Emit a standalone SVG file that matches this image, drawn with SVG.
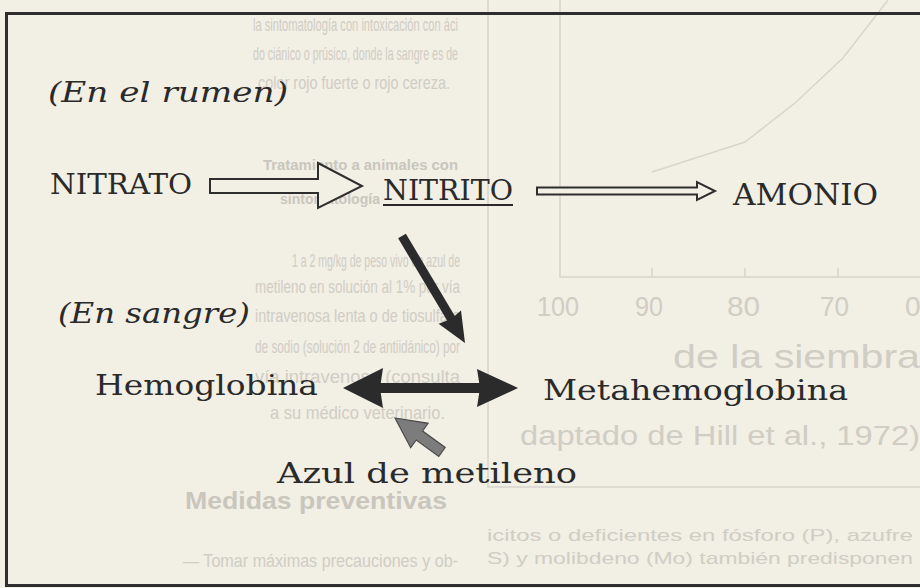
<svg xmlns="http://www.w3.org/2000/svg" width="920" height="588" viewBox="0 0 920 588">
<style>
.bg{fill:#f2efe5}
.ghost{font-family:"Liberation Sans","DejaVu Sans",sans-serif;fill:#d0cdc4}
.ghostb{font-family:"Liberation Sans","DejaVu Sans",sans-serif;font-weight:bold;fill:#c9c6bd}
.gline{fill:none;stroke:#d8d5cc;stroke-width:1.5}
.lbl{font-family:"DejaVu Serif","Liberation Serif",serif;fill:#2a2a2a}
.it{font-style:italic}
.frame{fill:none;stroke:#2e2e2e;stroke-width:3}
.hollow{fill:#f2efe5;stroke:#2e2e2e;stroke-width:2;stroke-linejoin:miter}
.solid{fill:#2b2b2b;stroke:none}
</style>
<rect class="bg" x="0" y="0" width="920" height="588"/>

<g id="show-through">
  <text class="ghost" x="253" y="31" font-size="19" textLength="205" lengthAdjust="spacingAndGlyphs">la sintomatología con intoxicación con áci</text>
  <text class="ghost" x="253" y="60" font-size="19" textLength="205" lengthAdjust="spacingAndGlyphs">do ciánico o prúsico, donde la sangre es de</text>
  <text class="ghost" x="258" y="89" font-size="19" textLength="192" lengthAdjust="spacingAndGlyphs">color rojo fuerte o rojo cereza.</text>
  <text class="ghostb" x="263" y="170" font-size="14" textLength="195" lengthAdjust="spacingAndGlyphs">Tratamiento a animales con</text>
  <text class="ghostb" x="280" y="204" font-size="14" textLength="100" lengthAdjust="spacingAndGlyphs">sintomatología</text>
  <text class="ghost" x="292" y="267" font-size="19" textLength="168" lengthAdjust="spacingAndGlyphs">1 a 2 mg/kg de peso vivo de azul de</text>
  <text class="ghost" x="255" y="293" font-size="19" textLength="205" lengthAdjust="spacingAndGlyphs">metileno en solución al 1% por vía</text>
  <text class="ghost" x="255" y="322" font-size="19" textLength="205" lengthAdjust="spacingAndGlyphs">intravenosa lenta o de tiosulfato</text>
  <text class="ghost" x="255" y="353" font-size="19" textLength="205" lengthAdjust="spacingAndGlyphs">de sodio (solución 2 de antiidánico) por</text>
  <text class="ghost" x="255" y="383" font-size="19" textLength="205" lengthAdjust="spacingAndGlyphs">vía intravenosa (consulta</text>
  <text class="ghost" x="270" y="419" font-size="19" textLength="175" lengthAdjust="spacingAndGlyphs">a su médico veterinario.</text>
  <text class="ghostb" x="185" y="509" font-size="24" textLength="262" lengthAdjust="spacingAndGlyphs">Medidas preventivas</text>
  <text class="ghost" x="183" y="567" font-size="19" textLength="275" lengthAdjust="spacingAndGlyphs">— Tomar máximas precauciones y ob-</text>

  <path class="gline" d="M488 0 V487 H920"/>
  <path class="gline" d="M560 0 V277 H920"/>
  <path class="gline" d="M652 277 V268 M745 277 V268 M838 277 V268"/>
  <polyline class="gline" points="652,172 745,142 795,103 843,58 888,0"/>
  <text class="ghost" x="537" y="316" font-size="28" textLength="42" lengthAdjust="spacingAndGlyphs">100</text>
  <text class="ghost" x="635" y="316" font-size="28" textLength="28" lengthAdjust="spacingAndGlyphs">90</text>
  <text class="ghost" x="727" y="316" font-size="28" textLength="33" lengthAdjust="spacingAndGlyphs">80</text>
  <text class="ghost" x="820" y="316" font-size="28" textLength="29" lengthAdjust="spacingAndGlyphs">70</text>
  <text class="ghost" x="905" y="316" font-size="28">0</text>
  <text class="ghost" x="673" y="368" font-size="33" textLength="247" lengthAdjust="spacingAndGlyphs">de la siembra</text>
  <text class="ghost" x="520" y="445" font-size="27" textLength="400" lengthAdjust="spacingAndGlyphs">daptado de Hill et al., 1972)</text>
  <text class="ghost" x="487" y="541" font-size="17" textLength="426" lengthAdjust="spacingAndGlyphs">icitos o deficientes en fósforo (P), azufre</text>
  <text class="ghost" x="487" y="564" font-size="17" textLength="426" lengthAdjust="spacingAndGlyphs">S) y molibdeno (Mo) también predisponen</text>
</g>

<g id="box">
  <path class="frame" d="M920 13.5 H6.5 V585.5 H920"/>
</g>

<g id="connectors">
  <polygon id="arrow-nitrato-nitrito" class="hollow" points="210,179 318,179 318,163 362,186 318,208 318,193 210,193"/>
  <polygon id="arrow-nitrito-amonio" class="hollow" points="537,187.5 697,187.5 697,182 715,191 697,200 697,194.5 537,194.5"/>
  <g id="arrow-nitrito-metahemoglobina">
    <line x1="402" y1="236" x2="452" y2="320" stroke="#2b2b2b" stroke-width="9"/>
    <polygon class="solid" points="465,343 438.6,323.8 451,319 461,310.6"/>
  </g>
  <g id="arrow-hemo-metahemo">
    <rect class="solid" x="380" y="383" width="100" height="10"/>
    <polygon class="solid" points="343,388 383,368 380,388 383,408"/>
    <polygon class="solid" points="518,388 477,369 480,388 477,407"/>
  </g>
  <polygon id="arrow-azul" points="395,418 428.1,423.3 422.6,431 445.2,447.5 438.8,456.5 416.2,440 410.7,447.7" fill="#7c7c7c" stroke="#4a4a4a" stroke-width="1.2"/>
</g>

<g id="label-rumen">
  <text class="lbl it" x="48" y="102" font-size="27" textLength="240" lengthAdjust="spacingAndGlyphs">(En el rumen)</text>
</g>
<g id="node-nitrato">
  <text class="lbl" x="50" y="194" font-size="27" textLength="142" lengthAdjust="spacingAndGlyphs">NITRATO</text>
</g>
<g id="node-nitrito">
  <text class="lbl" x="383" y="200" font-size="27" textLength="130" lengthAdjust="spacingAndGlyphs">NITRITO</text>
  <line x1="383" y1="205" x2="513" y2="205" stroke="#2a2a2a" stroke-width="2"/>
</g>
<g id="node-amonio">
  <text class="lbl" x="733" y="205" font-size="30" textLength="145" lengthAdjust="spacingAndGlyphs">AMONIO</text>
</g>
<g id="label-sangre">
  <text class="lbl it" x="58" y="323" font-size="27" textLength="192" lengthAdjust="spacingAndGlyphs">(En sangre)</text>
</g>
<g id="node-hemoglobina">
  <text class="lbl" x="95" y="395" font-size="27" textLength="223" lengthAdjust="spacingAndGlyphs">Hemoglobina</text>
</g>
<g id="node-metahemoglobina">
  <text class="lbl" x="543" y="400" font-size="27" textLength="305" lengthAdjust="spacingAndGlyphs">Metahemoglobina</text>
</g>
<g id="node-azul">
  <text class="lbl" x="277" y="483" font-size="27" textLength="300" lengthAdjust="spacingAndGlyphs">Azul de metileno</text>
</g>
</svg>
